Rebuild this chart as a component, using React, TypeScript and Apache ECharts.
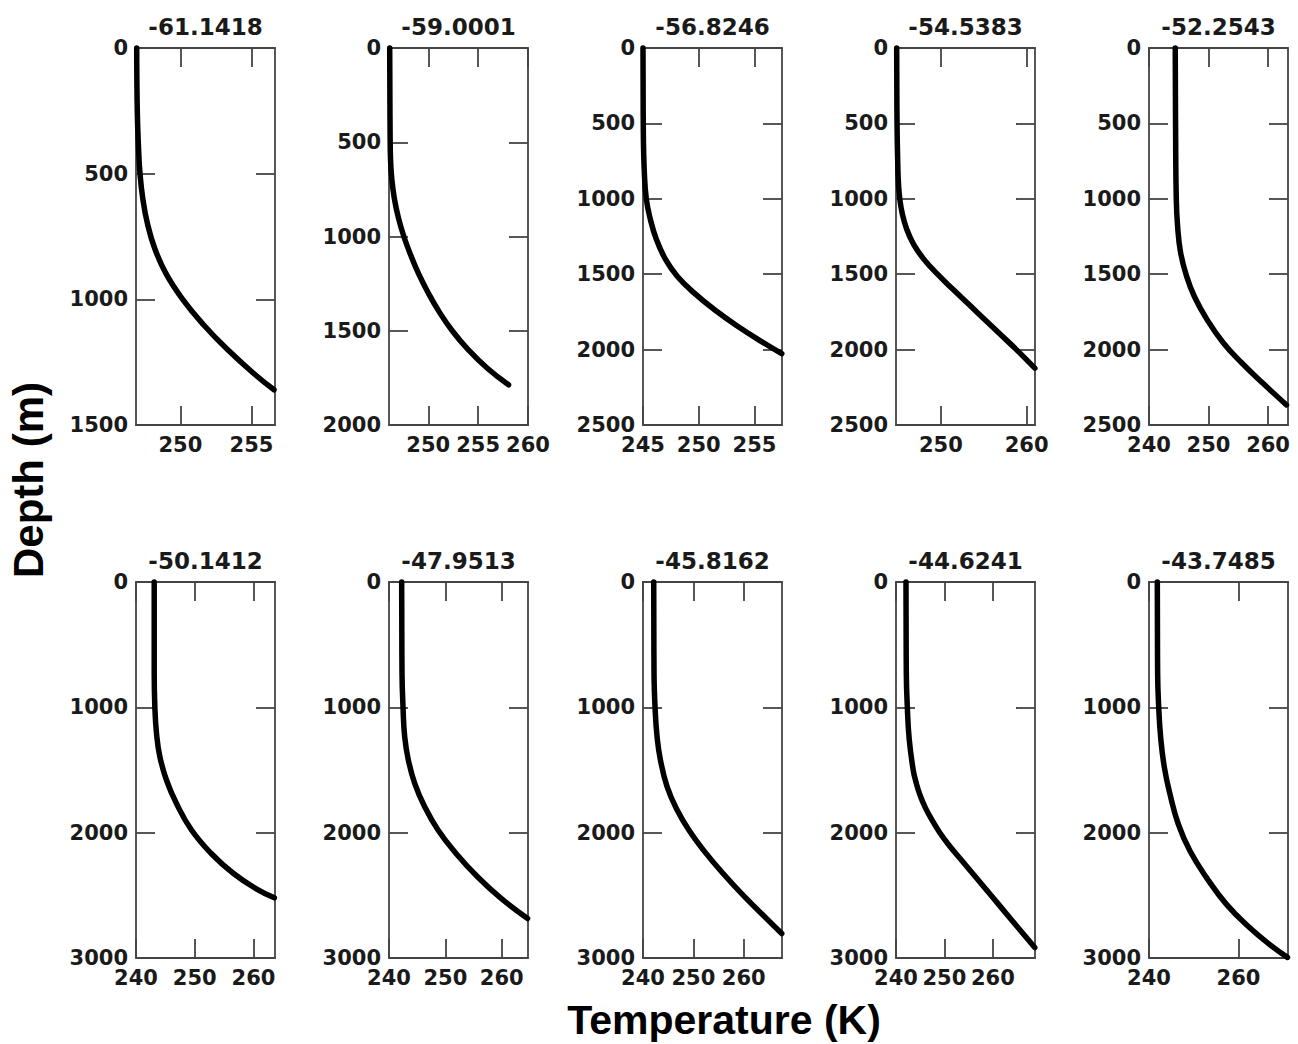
import React, { useEffect, useRef } from "react";
import * as echarts from "echarts";

const panelTitles = ["-61.1418", "-59.0001", "-56.8246", "-54.5383", "-52.2543", "-50.1412", "-47.9513", "-45.8162", "-44.6241", "-43.7485"];

const temp1 = [246.93, 246.97, 247.06, 247.16, 247.36, 247.69, 248.21, 249.01, 250.16, 251.61, 253.31, 255.26, 256.58];
const depth1 = [0, 250, 400, 500, 600, 700, 800, 900, 1000, 1100, 1200, 1300, 1360];

const temp2 = [246.13, 246.17, 246.22, 246.35, 246.6, 247.0, 247.55, 248.25, 249.05, 250.0, 251.1, 252.4, 254.0, 255.95, 258.05];
const depth2 = [0, 450, 600, 700, 800, 900, 1000, 1100, 1200, 1300, 1400, 1500, 1600, 1700, 1787];

const temp3 = [245.0, 245.03, 245.12, 245.3, 245.66, 246.2, 247.02, 248.07, 249.58, 251.39, 253.49, 255.6, 257.45];
const depth3 = [0, 559, 825, 1003, 1136, 1269, 1402, 1513, 1624, 1734, 1845, 1945, 2027];

const temp4 = [244.84, 244.88, 244.97, 245.05, 245.2, 245.5, 246.0, 246.8, 248.0, 249.6, 251.4, 253.25, 255.1, 256.95, 258.8, 260.95];
const depth4 = [0, 497, 781, 900, 1000, 1100, 1200, 1300, 1400, 1500, 1600, 1700, 1800, 1900, 2000, 2123];

const temp5 = [244.41, 244.47, 244.58, 244.8, 245.31, 246.31, 247.6, 249.75, 252.5, 255.6, 259.1, 263.1];
const depth5 = [0, 559, 998, 1180, 1357, 1513, 1646, 1801, 1956, 2089, 2222, 2367];

const temp6 = [243.1, 243.1, 243.21, 243.49, 244.06, 245.18, 246.87, 249.45, 252.8, 256.6, 260.4, 263.55];
const depth6 = [0, 727, 999, 1207, 1393, 1580, 1766, 1979, 2166, 2326, 2446, 2520];

const temp7 = [242.25, 242.31, 242.49, 242.78, 243.43, 244.56, 246.33, 248.7, 251.9, 255.7, 259.9, 264.6];
const depth7 = [0, 727, 999, 1233, 1420, 1606, 1793, 1979, 2166, 2352, 2525, 2685];

const temp8 = [242.13, 242.19, 242.39, 242.79, 243.46, 244.78, 246.78, 249.1, 252.0, 255.9, 260.2, 267.55];
const depth8 = [0, 727, 999, 1233, 1420, 1633, 1820, 1979, 2139, 2326, 2512, 2805];

const temp9 = [242.06, 242.13, 242.34, 242.72, 243.55, 244.15, 244.95, 246.05, 247.45, 249.05, 250.95, 253.1, 257.44, 261.78, 266.12, 268.65];
const depth9 = [0, 727, 1000, 1250, 1500, 1600, 1700, 1800, 1900, 2000, 2100, 2200, 2400, 2600, 2800, 2917];

const temp10 = [241.86, 241.93, 242.16, 242.6, 243.42, 244.68, 246.54, 249.14, 252.86, 257.32, 262.53, 266.99, 270.95];
const depth10 = [0, 729, 991, 1237, 1477, 1691, 1931, 2145, 2359, 2572, 2759, 2893, 2995];

const temps = [temp1, temp2, temp3, temp4, temp5, temp6, temp7, temp8, temp9, temp10];
const depths = [depth1, depth2, depth3, depth4, depth5, depth6, depth7, depth8, depth9, depth10];

const xMins = [246.88, 246.06, 245, 244.76, 240, 240, 240, 240, 240, 240];
const xMaxs = [256.65, 260, 257.47, 260.97, 263.35, 263.66, 264.67, 267.6, 268.7, 271.07];
const xTicks = [
  [250, 255],
  [250, 255, 260],
  [245, 250, 255],
  [250, 260],
  [240, 250, 260],
  [240, 250, 260],
  [240, 250, 260],
  [240, 250, 260],
  [240, 250, 260],
  [240, 260],
];
const yMaxs = [1500, 2000, 2500, 2500, 2500, 3000, 3000, 3000, 3000, 3000];
const yIntervals = [500, 500, 500, 500, 500, 1000, 1000, 1000, 1000, 1000];

const xLabel = "Temperature (K)";
const yLabel = "Depth (m)";

const COL_LEFT = [136, 389, 643, 896, 1149];
const ROW_TOP = [48, 582];
const ROW_H = [377, 376];
const PANEL_W = 139;

const AXIS_COLOR = "#444";
const TEXT_COLOR = "#1a1a1a";
const TICK_FONT = "DejaVu Sans";

export default function App() {
  const ref = useRef<HTMLDivElement>(null);

  useEffect(() => {
    document.body.style.margin = "0";
    if (!ref.current) return;
    const chart = echarts.init(ref.current, undefined, { renderer: "svg" });

    const grids: any[] = [];
    const xAxes: any[] = [];
    const yAxes: any[] = [];
    const series: any[] = [];
    const graphics: any[] = [];

    const lineStyle = { color: AXIS_COLOR, width: 1.8 };
    const labelBase = {
      color: TEXT_COLOR,
      fontFamily: TICK_FONT,
      fontWeight: "bold" as const,
      fontSize: 21,
      formatter: (v: number) => String(v),
    };

    for (let i = 0; i < 10; i++) {
      const r = Math.floor(i / 5);
      const c = i % 5;
      const left = COL_LEFT[c];
      const top = ROW_TOP[r];
      const h = ROW_H[r];
      grids.push({ left, top, width: PANEL_W, height: h, containLabel: false });

      const xCommon = {
        gridIndex: i,
        type: "value",
        min: xMins[i],
        max: xMaxs[i],
        splitLine: { show: false },
        axisLine: { show: true, onZero: false, lineStyle },
        axisTick: { show: true, inside: true, length: 19, customValues: xTicks[i], lineStyle },
      };
      xAxes.push({
        ...xCommon,
        position: "bottom",
        axisLabel: { ...labelBase, margin: 9, customValues: xTicks[i], showMinLabel: true, showMaxLabel: true },
      });
      xAxes.push({
        ...xCommon,
        position: "top",
        axisLabel: { show: false },
      });

      const yCommon = {
        gridIndex: i,
        type: "value",
        inverse: true,
        min: 0,
        max: yMaxs[i],
        interval: yIntervals[i],
        splitLine: { show: false },
        axisLine: { show: true, onZero: false, lineStyle },
        axisTick: { show: true, inside: true, length: 19, lineStyle },
      };
      yAxes.push({
        ...yCommon,
        position: "left",
        axisLabel: { ...labelBase, margin: 8, showMinLabel: true, showMaxLabel: true },
      });
      yAxes.push({
        ...yCommon,
        position: "right",
        axisLabel: { show: false },
      });

      series.push({
        type: "line",
        xAxisIndex: 2 * i,
        yAxisIndex: 2 * i,
        data: temps[i].map((t, j) => [t, depths[i][j]]),
        showSymbol: false,
        symbol: "none",
        smooth: 0.45,
        clip: false,
        lineStyle: { color: "#000", width: 5.5, cap: "round" },
        z: 5,
      });

      graphics.push({
        type: "text",
        x: left + PANEL_W / 2,
        y: top - 21,
        style: {
          text: panelTitles[i],
          font: 'bold 23px "DejaVu Sans"',
          fill: TEXT_COLOR,
          align: "center",
          verticalAlign: "middle",
          textAlign: "center",
          textVerticalAlign: "middle",
        },
      });
    }

    graphics.push({
      type: "text",
      x: 724,
      y: 1020,
      style: {
        text: xLabel,
        font: 'bold 41px "Liberation Sans", Arial, sans-serif',
        fill: "#000",
        align: "center",
        verticalAlign: "middle",
        textAlign: "center",
        textVerticalAlign: "middle",
      },
    });
    graphics.push({
      type: "text",
      x: 28,
      y: 480,
      rotation: Math.PI / 2,
      style: {
        text: yLabel,
        font: 'bold 42px "Liberation Sans", Arial, sans-serif',
        fill: "#000",
        align: "center",
        verticalAlign: "middle",
        textAlign: "center",
        textVerticalAlign: "middle",
      },
    });

    chart.setOption({
      animation: false,
      backgroundColor: "#fff",
      grid: grids,
      xAxis: xAxes,
      yAxis: yAxes,
      series,
      graphic: graphics,
    });

    return () => {
      chart.dispose();
    };
  }, []);

  return <div ref={ref} style={{ width: 1298, height: 1044 }} />;
}
